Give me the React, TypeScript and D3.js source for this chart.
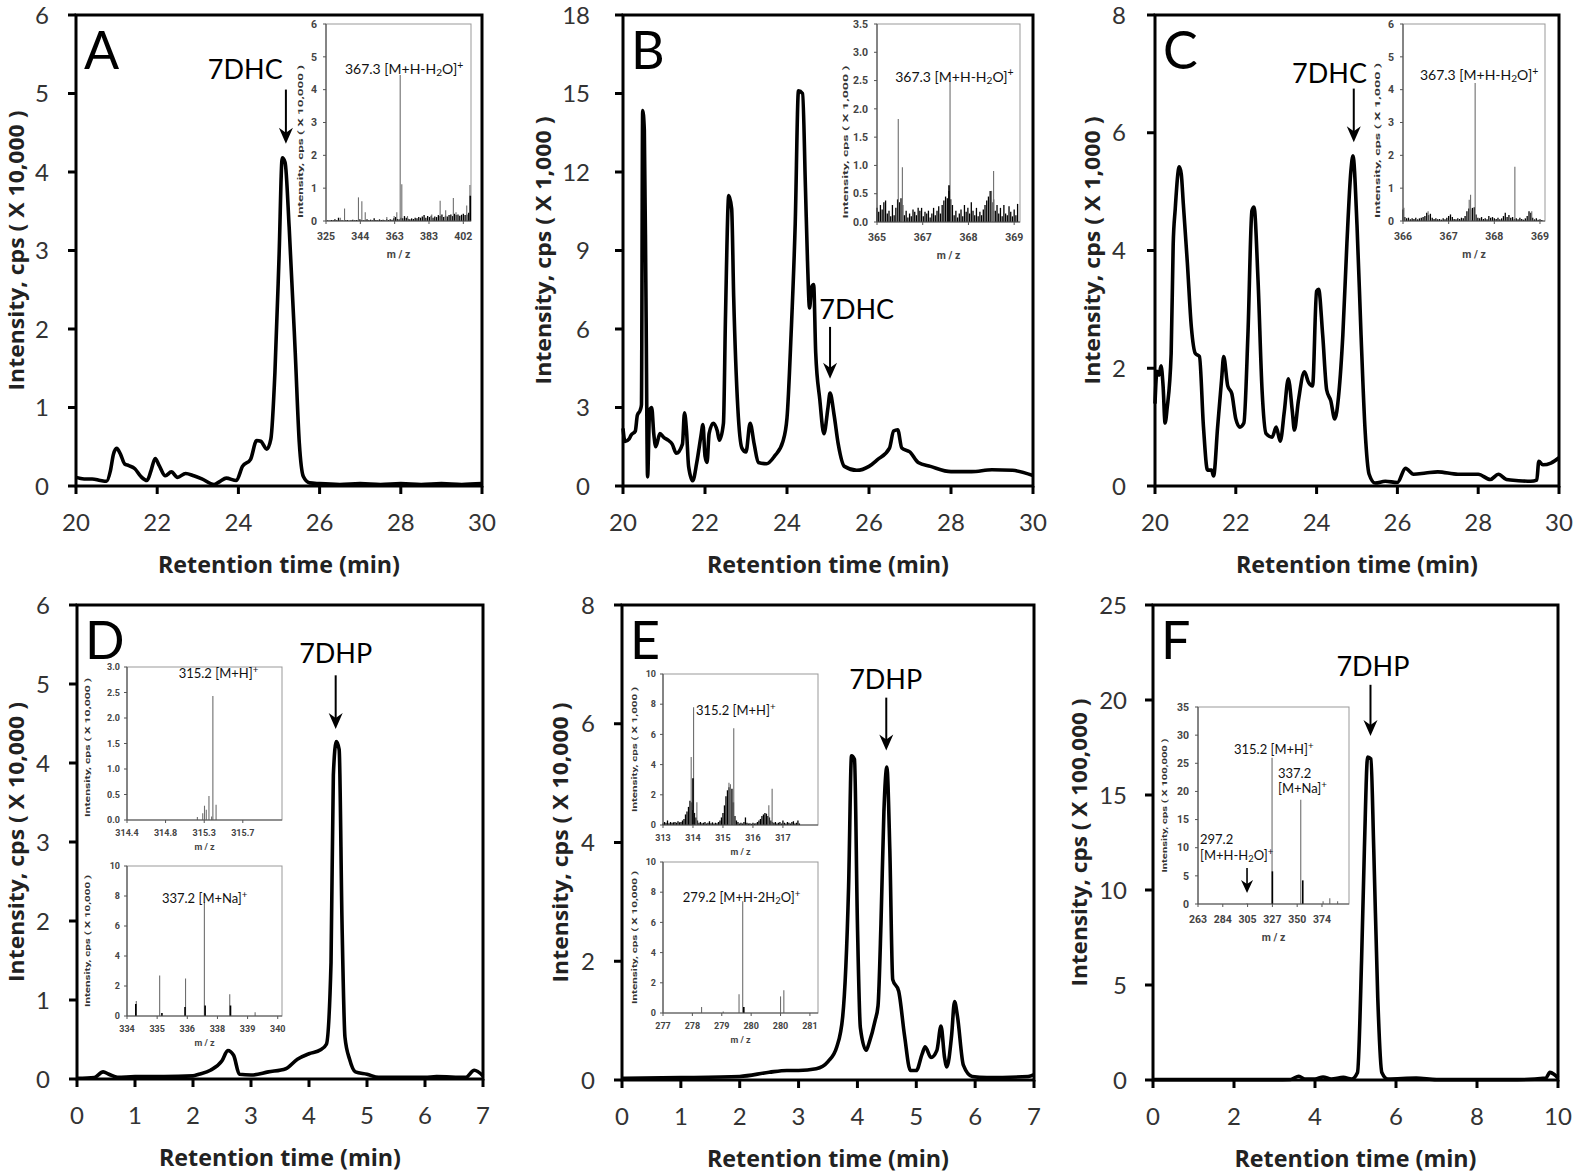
import React from "react";
import * as d3 from "d3";

type Pt = [number, number];

// ---------------- Chromatogram traces (time, intensity) ----------------
const traceA: Pt[] = [[20.0,0.11],[20.2,0.09],[20.4,0.09],[20.6,0.07],[20.75,0.06],[20.85,0.2],[20.92,0.4],[21.0,0.48],[21.1,0.4],[21.2,0.28],[21.3,0.26],[21.45,0.22],[21.6,0.12],[21.75,0.07],[21.85,0.2],[21.95,0.35],[22.05,0.26],[22.2,0.13],[22.35,0.18],[22.5,0.11],[22.7,0.16],[22.9,0.13],[23.1,0.09],[23.4,0.02],[23.55,0.06],[23.7,0.1],[23.95,0.07],[24.1,0.25],[24.3,0.34],[24.45,0.58],[24.55,0.57],[24.7,0.47],[24.8,0.6],[24.9,1.45],[25.0,2.9],[25.08,4.18],[25.15,4.12],[25.25,3.3],[25.4,1.7],[25.5,0.55],[25.6,0.12],[25.75,0.04],[26.0,0.03],[26.5,0.02],[27.0,0.03],[27.5,0.02],[28.0,0.03],[28.5,0.02],[29.0,0.03],[29.5,0.02],[30.0,0.03]];
const traceB: Pt[] = [[20.0,2.2],[20.05,1.7],[20.15,1.8],[20.2,1.95],[20.3,2.1],[20.35,2.7],[20.42,2.9],[20.45,3.1],[20.48,14.35],[20.52,13.6],[20.56,7.2],[20.6,0.35],[20.65,2.9],[20.7,3.0],[20.75,2.0],[20.8,1.5],[20.9,2.0],[21.0,1.85],[21.1,1.75],[21.2,1.6],[21.3,1.25],[21.45,1.6],[21.5,2.8],[21.55,2.1],[21.6,0.75],[21.7,0.2],[21.8,0.9],[21.9,1.9],[21.95,2.35],[22.0,1.15],[22.05,0.9],[22.1,2.0],[22.2,2.4],[22.3,2.1],[22.35,1.75],[22.45,2.4],[22.5,6.5],[22.58,11.1],[22.65,10.6],[22.7,7.2],[22.8,3.0],[22.9,1.45],[23.0,1.3],[23.1,2.4],[23.2,1.6],[23.3,0.9],[23.5,0.85],[23.7,1.15],[23.9,1.7],[24.0,2.6],[24.1,5.8],[24.2,10.0],[24.28,15.1],[24.38,15.0],[24.45,11.4],[24.5,8.6],[24.55,6.8],[24.6,7.6],[24.65,7.7],[24.7,5.1],[24.8,3.3],[24.9,2.0],[25.0,3.0],[25.05,3.55],[25.15,2.7],[25.25,1.6],[25.4,0.75],[25.7,0.6],[26.0,0.75],[26.2,1.0],[26.5,1.45],[26.6,2.1],[26.7,2.15],[26.8,1.45],[27.0,1.3],[27.2,0.9],[27.5,0.75],[28.0,0.55],[28.5,0.55],[29.0,0.62],[29.5,0.6],[30.0,0.4]];
const traceC: Pt[] = [[20.0,1.4],[20.05,1.95],[20.1,1.88],[20.15,2.04],[20.2,1.7],[20.25,1.07],[20.3,1.32],[20.4,2.25],[20.45,4.1],[20.5,4.7],[20.6,5.42],[20.65,5.3],[20.7,4.8],[20.8,3.8],[20.9,2.7],[21.0,2.25],[21.1,2.2],[21.2,1.0],[21.3,0.27],[21.4,0.27],[21.45,0.17],[21.55,1.0],[21.65,1.82],[21.7,2.2],[21.8,1.7],[21.9,1.57],[22.0,1.14],[22.1,1.0],[22.2,1.07],[22.3,2.57],[22.4,4.68],[22.45,4.74],[22.55,3.5],[22.65,1.63],[22.75,0.89],[22.9,0.83],[23.0,1.0],[23.1,0.76],[23.2,1.26],[23.3,1.82],[23.4,1.26],[23.45,0.95],[23.55,1.45],[23.7,1.94],[23.8,1.76],[23.9,1.7],[24.0,3.31],[24.05,3.34],[24.15,2.57],[24.25,1.63],[24.35,1.45],[24.45,1.14],[24.55,1.57],[24.65,2.57],[24.75,4.12],[24.85,5.36],[24.9,5.61],[25.0,4.43],[25.1,2.57],[25.2,0.95],[25.3,0.2],[25.45,0.05],[25.7,0.08],[26.0,0.06],[26.2,0.3],[26.4,0.2],[26.7,0.22],[27.0,0.24],[27.5,0.2],[28.0,0.2],[28.3,0.11],[28.5,0.2],[28.7,0.11],[29.0,0.09],[29.3,0.08],[29.45,0.1],[29.5,0.42],[29.6,0.36],[29.8,0.39],[30.0,0.48]];
const traceD: Pt[] = [[0.0,0.01],[0.3,0.02],[0.45,0.09],[0.55,0.06],[0.7,0.02],[1.0,0.03],[1.5,0.03],[2.0,0.04],[2.1,0.06],[2.3,0.11],[2.5,0.23],[2.6,0.36],[2.7,0.3],[2.8,0.06],[3.0,0.05],[3.3,0.09],[3.6,0.13],[3.8,0.25],[4.0,0.32],[4.2,0.37],[4.3,0.44],[4.38,1.48],[4.42,3.85],[4.47,4.27],[4.52,4.17],[4.57,1.95],[4.62,0.53],[4.7,0.25],[4.8,0.09],[5.0,0.06],[5.2,0.02],[6.0,0.02],[6.2,0.03],[6.7,0.02],[6.85,0.11],[7.0,0.04]];
const traceE: Pt[] = [[0.0,0.03],[1.0,0.04],[2.0,0.06],[2.5,0.13],[2.8,0.16],[3.0,0.16],[3.3,0.19],[3.5,0.31],[3.65,0.56],[3.75,1.07],[3.85,3.26],[3.9,5.46],[3.95,5.4],[4.0,2.63],[4.05,0.88],[4.15,0.5],[4.2,0.63],[4.3,1.0],[4.35,1.25],[4.4,2.63],[4.45,4.52],[4.5,5.27],[4.55,3.89],[4.6,1.69],[4.7,1.5],[4.8,0.75],[4.9,0.16],[5.0,0.16],[5.1,0.44],[5.15,0.56],[5.25,0.38],[5.35,0.5],[5.42,0.91],[5.48,0.38],[5.52,0.22],[5.6,0.75],[5.65,1.32],[5.7,1.07],[5.8,0.25],[5.95,0.06],[6.2,0.04],[6.9,0.06],[7.0,0.09]];
const traceF: Pt[] = [[0.0,0.02],[1.0,0.02],[2.0,0.02],[3.0,0.02],[3.4,0.03],[3.6,0.2],[3.75,0.05],[4.0,0.05],[4.2,0.16],[4.4,0.05],[4.7,0.14],[4.9,0.05],[5.05,0.4],[5.15,6.3],[5.22,12.2],[5.3,17.0],[5.38,16.9],[5.45,12.2],[5.55,4.3],[5.65,0.4],[5.8,0.05],[6.5,0.1],[7.0,0.02],[8.0,0.02],[9.0,0.02],[9.7,0.1],[9.8,0.4],[9.9,0.3],[10.0,0.1]];

// ---------------- main axes ----------------
const xTicksTop = [20, 22, 24, 26, 28, 30];
const xTicksDE = [0, 1, 2, 3, 4, 5, 6, 7];
const xTicksF = [0, 2, 4, 6, 8, 10];
const yTicksA = [0, 1, 2, 3, 4, 5, 6];
const yTicksB = [0, 3, 6, 9, 12, 15, 18];
const yTicksC = [0, 2, 4, 6, 8];
const yTicksD = [0, 1, 2, 3, 4, 5, 6];
const yTicksE = [0, 2, 4, 6, 8];
const yTicksF = [0, 5, 10, 15, 20, 25];

// ---------------- inset spectra (m/z, intensity) ----------------
const specAGray: Pt[] = [[333,0.1],[335.4,0.38],[343.2,0.72],[345.1,0.6],[347.0,0.27],[359.1,0.12],[363.2,0.15],[364.7,0.27],[366.6,4.45],[367.5,1.12],[370.7,0.15],[384.3,0.2],[389,0.62],[392.1,0.33],[396.4,0.7],[397.9,0.27],[403.9,0.47],[405.7,1.1]];
const specABlack: Pt[] = [[405.9,0.77]];
const noiseA = [0.02,0.01,0.03,0.02,0.05,0.02,0.1,0.03,0.02,0.01,0.02,0.03,0.01,0.02,0.04,0.02,0.03,0.02,0.05,0.03,0.02,0.03,0.05,0.02,0.04,0.02,0.08,0.03,0.02,0.05,0.03,0.04,0.02,0.06,0.03,0.05,0.04,0.08,0.12,0.06,0.05,0.1,0.08,0.15,0.1,0.07,0.05,0.08,0.06,0.1,0.08,0.12,0.1,0.14,0.18,0.1,0.15,0.12,0.16,0.1,0.14,0.12,0.18,0.15,0.2,0.12,0.16,0.14,0.18,0.2,0.15,0.22,0.18,0.2,0.16,0.19,0.22,0.18,0.2,0.25];
const noiseAStart = 326, noiseAStep = 1;

const specBGray: Pt[] = [[365.62,1.82],[365.74,0.97],[367.13,2.5],[368.34,0.55],[368.40,0.9]];
const specBBlack: Pt[] = [[367.1,0.65]];
const noiseB = [0.25,0.18,0.3,0.22,0.35,0.38,0.15,0.2,0.1,0.3,0.12,0.25,0.4,0.35,0.42,0.3,0.12,0.2,0.08,0.15,0.1,0.22,0.18,0.12,0.25,0.2,0.25,0.1,0.18,0.15,0.2,0.08,0.15,0.25,0.12,0.2,0.28,0.15,0.3,0.38,0.45,0.42,0.55,0.4,0.3,0.12,0.2,0.08,0.15,0.22,0.1,0.3,0.18,0.25,0.15,0.35,0.2,0.12,0.25,0.1,0.18,0.12,0.22,0.3,0.38,0.45,0.55,0.35,0.4,0.2,0.3,0.15,0.25,0.1,0.3,0.15,0.12,0.28,0.18,0.1,0.22,0.12,0.32];
const noiseBStart = 365.0, noiseBStep = 0.05;

const specCGray: Pt[] = [[366.02,0.4],[366.55,0.3],[367.45,0.65],[367.48,0.8],[367.58,4.2],[368.45,1.65],[368.82,0.3]];
const specCBlack: Pt[] = [];
const noiseC = [0.35,0.12,0.08,0.1,0.05,0.08,0.06,0.1,0.05,0.08,0.1,0.12,0.15,0.25,0.18,0.22,0.1,0.06,0.08,0.05,0.06,0.04,0.08,0.05,0.1,0.15,0.2,0.12,0.06,0.05,0.08,0.06,0.1,0.08,0.15,0.3,0.38,0.35,0.4,0.42,0.2,0.1,0.08,0.12,0.06,0.08,0.05,0.15,0.1,0.12,0.08,0.06,0.1,0.05,0.08,0.15,0.25,0.12,0.18,0.1,0.12,0.06,0.08,0.05,0.1,0.06,0.04,0.08,0.15,0.3,0.25,0.1,0.05,0.08,0.04,0.05,0.03];
const noiseCStart = 366.0, noiseCStep = 0.04;

const specD1Gray: Pt[] = [[315.19,0.06],[315.25,0.13],[315.27,0.28],[315.29,0.2],[315.32,0.47],[315.35,0.07],[315.364,2.43],[315.40,0.3]];
const specD2Gray: Pt[] = [[334.37,1.0],[335.3,2.7],[336.33,2.5],[337.08,7.6],[338.09,1.45],[339.1,0.25]];
const specD2Black: Pt[] = [[334.35,0.8],[335.39,0.2],[336.31,0.6],[337.11,0.7],[338.12,0.7]];

const specE1Gray: Pt[] = [[313.94,4.5],[314.02,7.8],[314.13,1.5],[315.2,2.8],[315.25,2.7],[315.36,6.4],[316.53,1.3],[316.64,2.4]];
const specE1Black: Pt[] = [[314.0,3.1]];
const noiseE1 = [0.1,0.2,0.15,0.3,0.12,0.2,0.15,0.18,0.2,0.15,0.25,0.18,0.2,0.3,0.4,0.7,0.9,1.2,1.6,1.5,1.0,0.8,0.5,0.3,0.15,0.2,0.12,0.15,0.2,0.1,0.15,0.25,0.12,0.18,0.1,0.15,0.12,0.2,0.3,0.5,0.8,1.3,1.9,2.3,2.5,2.4,2.4,1.5,0.6,0.3,0.2,0.1,0.15,0.1,0.2,0.5,0.15,0.1,0.12,0.08,0.15,0.1,0.12,0.2,0.3,0.4,0.6,0.7,0.8,0.75,0.6,0.5,0.3,0.2,0.15,0.2,0.1,0.15,0.2,0.1,0.3,0.15,0.1,0.2,0.15,0.1,0.2,0.25,0.1,0.15,0.3,0.1];
const noiseE1Start = 313.0, noiseE1Step = 0.05;

const specE2Gray: Pt[] = [[278.05,0.4],[278.64,0.1],[279.07,1.25],[279.17,7.4],[280.2,1.1],[280.29,1.5]];
const specE2Black: Pt[] = [[279.2,0.4]];

const specFGray: Pt[] = [[306.9,0.15],[329.3,26],[355,18.5],[375,0.5],[381,1.0],[388,0.5]];
const specFBlack: Pt[] = [[329.6,5.8],[356.8,4.2]];

// inset axis ticks / labels
const insATicks = [325, 344.25, 363.5, 382.75, 402];
const insALabels = ["325", "344", "363", "383", "402"];
const insBTicks = [365, 366.333, 367.667, 369];
const insBLabels = ["365", "367", "368", "369"];
const insCTicks = [366, 367, 368, 369];
const insCLabels = ["366", "367", "368", "369"];
const insD1Ticks = [314.4, 314.833, 315.267, 315.7];
const insD1Labels = ["314.4", "314.8", "315.3", "315.7"];
const insD2Ticks = [334, 335.2, 336.4, 337.6, 338.8, 340];
const insD2Labels = ["334", "335", "336", "338", "339", "340"];
const insE1Ticks = [313, 314, 315, 316, 317];
const insE1Labels = ["313", "314", "315", "316", "317"];
const insE2Ticks = [277, 277.8, 278.6, 279.4, 280.2, 281];
const insE2Labels = ["277", "278", "279", "280", "280", "281"];
const insFTicks = [263, 285.2, 307.4, 329.6, 351.8, 374];
const insFLabels = ["263", "284", "305", "327", "350", "374"];

const FS = "Lato, 'Open Sans', sans-serif";
const FB = "'Open Sans', 'DejaVu Sans', sans-serif";
const FI = "Roboto, 'DejaVu Sans', sans-serif";

type Box = { x0: number; x1: number; yTop: number; yBot: number };

function Chem({ x, y, text, size, anchor }: { x: number; y: number; text: string; size: number; anchor?: string }) {
  const parts = text.split(/(_\d|\^\+)/).filter((p) => p.length > 0);
  let shift = 0;
  const spans = parts.map((p, i) => {
    if (p.startsWith("_")) {
      const d = 2 - shift;
      shift = 2;
      return <tspan key={i} dy={d} fontSize={size * 0.72}>{p.slice(1)}</tspan>;
    }
    if (p.startsWith("^")) {
      const up = -size * 0.38;
      const d = up - shift;
      shift = up;
      return <tspan key={i} dy={d} fontSize={size * 0.75}>+</tspan>;
    }
    const d = -shift;
    shift = 0;
    return <tspan key={i} dy={d}>{p}</tspan>;
  });
  return (
    <text x={x} y={y} fontSize={size} fontFamily={FS} fill="#111" textAnchor={anchor || "start"}>
      {spans}
    </text>
  );
}

type Arrow = { t: number; vTop: number; vTip: number; label: string; lt: number; lv: number };

function Chrom(props: {
  box: Box; trace: Pt[]; xDomain: [number, number]; xTicks: number[]; yDomain: [number, number]; yTicks: number[];
  yTitle: string; yTitleLen: number; letter: string; arrow: Arrow; tickGap: number; titleGap: number;
}) {
  const { box, trace, xDomain, xTicks, yDomain, yTicks, yTitle, yTitleLen, letter, arrow, tickGap, titleGap } = props;
  const x = d3.scaleLinear().domain(xDomain).range([box.x0, box.x1]);
  const y = d3.scaleLinear().domain(yDomain).range([box.yBot, box.yTop]);
  const line = d3.line<Pt>().x((d) => x(d[0])).y((d) => y(d[1])).curve(d3.curveMonotoneX);
  const ax = x(arrow.t);
  const yt = y(arrow.vTop);
  const yp = y(arrow.vTip);
  const cx = (box.x0 + box.x1) / 2;
  const cy = (box.yTop + box.yBot) / 2;
  return (
    <g>
      <path d={line(trace) || ""} fill="none" stroke="#000" strokeWidth={3.6} strokeLinejoin="round" />
      <rect x={box.x0} y={box.yTop} width={box.x1 - box.x0} height={box.yBot - box.yTop} fill="none" stroke="#000" strokeWidth={3} />
      {xTicks.map((t) => (
        <g key={"x" + t}>
          <line x1={x(t)} x2={x(t)} y1={box.yBot} y2={box.yBot + 8} stroke="#000" strokeWidth={3} />
          <text x={x(t)} y={box.yBot + 45} textAnchor="middle" fontSize={24} fontFamily={FS} fill="#333">{t}</text>
        </g>
      ))}
      {yTicks.map((t) => (
        <g key={"y" + t}>
          <line x1={box.x0 - 8} x2={box.x0} y1={y(t)} y2={y(t)} stroke="#000" strokeWidth={3} />
          <text x={box.x0 - tickGap} y={y(t) + 8.5} textAnchor="end" fontSize={24} fontFamily={FS} fill="#333">{t}</text>
        </g>
      ))}
      <text x={cx} y={box.yBot + 87} textAnchor="middle" fontSize={22.5} fontWeight={700} fontFamily={FB} fill="#222"
        textLength={242} lengthAdjust="spacingAndGlyphs">Retention time (min)</text>
      <text transform={`translate(${box.x0 - titleGap},${cy}) rotate(-90)`} textAnchor="middle" fontSize={20.5} fontWeight={700} fontFamily={FB} fill="#222"
        textLength={yTitleLen} lengthAdjust="spacingAndGlyphs">{yTitle}</text>
      <text x={box.x0 + 8} y={box.yTop + 54} fontSize={52} fontFamily={FS} fill="#000">{letter}</text>
      <line x1={ax} x2={ax} y1={yt} y2={yp - 10} stroke="#000" strokeWidth={2} />
      <path d={`M${ax},${yp} L${ax - 7},${yp - 16} L${ax},${yp - 11} L${ax + 7},${yp - 16} Z`} fill="#000" />
      <text x={x(arrow.lt)} y={y(arrow.lv)} textAnchor="middle" fontSize={27} fontFamily={FS} fill="#000">{arrow.label}</text>
    </g>
  );
}

type Note = { mz: number; v: number; text: string };

function Inset(props: {
  box: Box; xDomain: [number, number]; xTicks: number[]; xLabels: string[]; yMax: number; yTicks: number[]; yFmt: (n: number) => string;
  yTitle: string; yTitleLen: number; yTitleGap: number; yTitleShift: number; gray: Pt[]; black: Pt[];
  noise?: number[]; noiseStart?: number; noiseStep?: number; notes: Note[]; noteSize: number; small?: boolean;
  arrow?: { mz: number; vTop: number; vTip: number };
}) {
  const p = props;
  const b = p.box;
  const x = d3.scaleLinear().domain(p.xDomain).range([b.x0, b.x1]);
  const y = d3.scaleLinear().domain([0, p.yMax]).range([b.yBot, b.yTop]);
  const fs = p.small ? 9 : 10.5;
  const lblOff = p.small ? 16 : 19;
  const mzOff = p.small ? 30 : 37;
  const tgap = p.small ? 7 : 9;
  const noise = p.noise || [];
  return (
    <g>
      <rect x={b.x0} y={b.yTop} width={b.x1 - b.x0} height={b.yBot - b.yTop} fill="#fff" stroke="#999" strokeWidth={1} />
      {noise.map((v, i) => {
        const xx = x((p.noiseStart || 0) + i * (p.noiseStep || 1));
        return <line key={"n" + i} x1={xx} x2={xx} y1={b.yBot} y2={y(v)} stroke="#000" strokeWidth={1.3} />;
      })}
      {p.gray.map((d, i) => (
        <line key={"g" + i} x1={x(d[0])} x2={x(d[0])} y1={b.yBot} y2={y(d[1])} stroke="#6e6e6e" strokeWidth={1.1} />
      ))}
      {p.black.map((d, i) => (
        <line key={"b" + i} x1={x(d[0])} x2={x(d[0])} y1={b.yBot} y2={y(d[1])} stroke="#000" strokeWidth={1.6} />
      ))}
      <line x1={b.x0} x2={b.x0} y1={b.yTop} y2={b.yBot} stroke="#555" strokeWidth={1.2} />
      <line x1={b.x0} x2={b.x1} y1={b.yBot} y2={b.yBot} stroke="#555" strokeWidth={1.2} />
      {p.yTicks.map((t) => (
        <g key={"yt" + t}>
          <line x1={b.x0 - 3} x2={b.x0} y1={y(t)} y2={y(t)} stroke="#555" strokeWidth={1} />
          <text x={b.x0 - tgap} y={y(t)} dy="0.35em" textAnchor="end" fontSize={fs} fontWeight={700} fontFamily={FI} fill="#444">{p.yFmt(t)}</text>
        </g>
      ))}
      {p.xTicks.map((t, i) => (
        <g key={"xt" + i}>
          <line x1={x(t)} x2={x(t)} y1={b.yBot} y2={b.yBot + 3} stroke="#555" strokeWidth={1} />
          <text x={x(t)} y={b.yBot + lblOff} textAnchor="middle" fontSize={fs} fontWeight={700} fontFamily={FI} fill="#444">{p.xLabels[i]}</text>
        </g>
      ))}
      <text x={(b.x0 + b.x1) / 2} y={b.yBot + mzOff} textAnchor="middle" fontSize={fs} fontWeight={700} fontFamily={FI} fill="#444">m / z</text>
      <text transform={`translate(${b.x0 - p.yTitleGap},${(b.yTop + b.yBot) / 2 + p.yTitleShift}) rotate(-90)`} textAnchor="middle"
        fontSize={8} fontWeight={700} fontFamily={FI} fill="#333" textLength={p.yTitleLen} lengthAdjust="spacingAndGlyphs">{p.yTitle}</text>
      {p.notes.map((n, i) => (
        <Chem key={"nt" + i} x={x(n.mz)} y={y(n.v)} text={n.text} size={p.noteSize} />
      ))}
      {p.arrow ? (
        <g>
          <line x1={x(p.arrow.mz)} x2={x(p.arrow.mz)} y1={y(p.arrow.vTop)} y2={y(p.arrow.vTip) - 8} stroke="#000" strokeWidth={1.6} />
          <path d={`M${x(p.arrow.mz)},${y(p.arrow.vTip)} l-6,-13 l6,4 l6,-4 Z`} fill="#000" />
        </g>
      ) : null}
    </g>
  );
}

const f0 = (n: number) => String(n);
const f1 = (n: number) => n.toFixed(1);

export default function App() {
  const boxA: Box = { x0: 76, x1: 482, yTop: 15, yBot: 486 };
  const boxB: Box = { x0: 623, x1: 1033, yTop: 15, yBot: 486 };
  const boxC: Box = { x0: 1155, x1: 1559, yTop: 15, yBot: 486 };
  const boxD: Box = { x0: 77, x1: 483, yTop: 605, yBot: 1079 };
  const boxE: Box = { x0: 622, x1: 1034, yTop: 605, yBot: 1080 };
  const boxF: Box = { x0: 1153, x1: 1558, yTop: 605, yBot: 1080 };
  return (
    <svg width={1575} height={1173} viewBox="0 0 1575 1173" style={{ position: "absolute", left: 0, top: 0, background: "#fff" }}>
      <rect x={0} y={0} width={1575} height={1173} fill="#fff" />
      <Chrom box={boxA} trace={traceA} xDomain={[20, 30]} xTicks={xTicksTop} yDomain={[0, 6]} yTicks={yTicksA}
        yTitle="Intensity, cps ( X 10,000 )" yTitleLen={280} letter="A" tickGap={27} titleGap={52}
        arrow={{ t: 25.17, vTop: 5.05, vTip: 4.36, label: "7DHC", lt: 24.17, lv: 5.18 }} />
      <Chrom box={boxB} trace={traceB} xDomain={[20, 30]} xTicks={xTicksTop} yDomain={[0, 18]} yTicks={yTicksB}
        yTitle="Intensity, cps ( X 1,000 )" yTitleLen={268} letter="B" tickGap={33} titleGap={72}
        arrow={{ t: 25.05, vTop: 6.08, vTip: 4.1, label: "7DHC", lt: 25.7, lv: 6.38 }} />
      <Chrom box={boxC} trace={traceC} xDomain={[20, 30]} xTicks={xTicksTop} yDomain={[0, 8]} yTicks={yTicksC}
        yTitle="Intensity, cps ( X 1,000 )" yTitleLen={268} letter="C" tickGap={29} titleGap={55}
        arrow={{ t: 24.92, vTop: 6.75, vTip: 5.84, label: "7DHC", lt: 24.32, lv: 6.85 }} />
      <Chrom box={boxD} trace={traceD} xDomain={[0, 7]} xTicks={xTicksDE} yDomain={[0, 6]} yTicks={yTicksD}
        yTitle="Intensity, cps ( X 10,000 )" yTitleLen={280} letter="D" tickGap={27} titleGap={53}
        arrow={{ t: 4.46, vTop: 5.11, vTip: 4.43, label: "7DHP", lt: 4.46, lv: 5.27 }} />
      <Chrom box={boxE} trace={traceE} xDomain={[0, 7]} xTicks={xTicksDE} yDomain={[0, 8]} yTicks={yTicksE}
        yTitle="Intensity, cps ( X 10,000 )" yTitleLen={280} letter="E" tickGap={27} titleGap={54}
        arrow={{ t: 4.49, vTop: 6.44, vTip: 5.55, label: "7DHP", lt: 4.48, lv: 6.59 }} />
      <Chrom box={boxF} trace={traceF} xDomain={[0, 10]} xTicks={xTicksF} yDomain={[0, 25]} yTicks={yTicksF}
        yTitle="Intensity, cps ( X 100,000 )" yTitleLen={288} letter="F" tickGap={26} titleGap={66}
        arrow={{ t: 5.37, vTop: 20.8, vTip: 18.1, label: "7DHP", lt: 5.43, lv: 21.25 }} />

      <Inset box={{ x0: 326, x1: 471, yTop: 24, yBot: 221 }} xDomain={[325, 406.3]} xTicks={insATicks} xLabels={insALabels}
        yMax={6} yTicks={[0, 1, 2, 3, 4, 5, 6]} yFmt={f0} yTitle="Intensity, cps ( X 10,000 )" yTitleLen={153} yTitleGap={23} yTitleShift={19}
        gray={specAGray} black={specABlack} noise={noiseA} noiseStart={noiseAStart} noiseStep={noiseAStep}
        notes={[{ mz: 335.6, v: 4.48, text: "367.3 [M+H-H_2O]^+" }]} noteSize={14} />
      <Inset box={{ x0: 877, x1: 1020, yTop: 24, yBot: 222 }} xDomain={[365, 369.17]} xTicks={insBTicks} xLabels={insBLabels}
        yMax={3.5} yTicks={[0, 0.5, 1, 1.5, 2, 2.5, 3, 3.5]} yFmt={f1} yTitle="Intensity, cps ( X 1,000 )" yTitleLen={153} yTitleGap={29} yTitleShift={19}
        gray={specBGray} black={specBBlack} noise={noiseB} noiseStart={noiseBStart} noiseStep={noiseBStep}
        notes={[{ mz: 365.53, v: 2.48, text: "367.3 [M+H-H_2O]^+" }]} noteSize={14} />
      <Inset box={{ x0: 1403, x1: 1545, yTop: 24, yBot: 221 }} xDomain={[366, 369.11]} xTicks={insCTicks} xLabels={insCLabels}
        yMax={6} yTicks={[0, 1, 2, 3, 4, 5, 6]} yFmt={f0} yTitle="Intensity, cps ( X 1,000 )" yTitleLen={155} yTitleGap={23} yTitleShift={18}
        gray={specCGray} black={specCBlack} noise={noiseC} noiseStart={noiseCStart} noiseStep={noiseCStep}
        notes={[{ mz: 366.37, v: 4.29, text: "367.3 [M+H-H_2O]^+" }]} noteSize={14} />
      <Inset box={{ x0: 127, x1: 282, yTop: 667, yBot: 820 }} xDomain={[314.4, 316.14]} xTicks={insD1Ticks} xLabels={insD1Labels}
        yMax={3} yTicks={[0, 0.5, 1, 1.5, 2, 2.5, 3]} yFmt={f1} yTitle="Intensity, cps ( X 10,000 )" yTitleLen={139} yTitleGap={37} yTitleShift={4}
        gray={specD1Gray} black={[]} notes={[{ mz: 314.98, v: 2.78, text: "315.2 [M+H]^+" }]} noteSize={13} small />
      <Inset box={{ x0: 127, x1: 282, yTop: 866, yBot: 1016 }} xDomain={[334, 340.17]} xTicks={insD2Ticks} xLabels={insD2Labels}
        yMax={10} yTicks={[0, 2, 4, 6, 8, 10]} yFmt={f0} yTitle="Intensity, cps ( X 10,000 )" yTitleLen={132} yTitleGap={37} yTitleShift={0}
        gray={specD2Gray} black={specD2Black} notes={[{ mz: 335.39, v: 7.53, text: "337.2 [M+Na]^+" }]} noteSize={13} small />
      <Inset box={{ x0: 663, x1: 818, yTop: 674, yBot: 825 }} xDomain={[313, 318.17]} xTicks={insE1Ticks} xLabels={insE1Labels}
        yMax={10} yTicks={[0, 2, 4, 6, 8, 10]} yFmt={f0} yTitle="Intensity, cps ( X 1,000 )" yTitleLen={125} yTitleGap={26} yTitleShift={0}
        gray={specE1Gray} black={specE1Black} noise={noiseE1} noiseStart={noiseE1Start} noiseStep={noiseE1Step}
        notes={[{ mz: 314.1, v: 7.28, text: "315.2 [M+H]^+" }]} noteSize={13} small />
      <Inset box={{ x0: 663, x1: 818, yTop: 862, yBot: 1013 }} xDomain={[277, 281.22]} xTicks={insE2Ticks} xLabels={insE2Labels}
        yMax={10} yTicks={[0, 2, 4, 6, 8, 10]} yFmt={f0} yTitle="Intensity, cps ( X 10,000 )" yTitleLen={133} yTitleGap={26} yTitleShift={0}
        gray={specE2Gray} black={specE2Black} notes={[{ mz: 277.54, v: 7.35, text: "279.2 [M+H-2H_2O]^+" }]} noteSize={13} small />
      <Inset box={{ x0: 1198, x1: 1349, yTop: 707, yBot: 904 }} xDomain={[263, 398.2]} xTicks={insFTicks} xLabels={insFLabels}
        yMax={35} yTicks={[0, 5, 10, 15, 20, 25, 30, 35]} yFmt={f0} yTitle="Intensity, cps ( X 100,000 )" yTitleLen={134} yTitleGap={31} yTitleShift={0}
        gray={specFGray} black={specFBlack}
        notes={[
          { mz: 295.2, v: 26.6, text: "315.2 [M+H]^+" },
          { mz: 334.6, v: 22.4, text: "337.2" },
          { mz: 334.6, v: 19.7, text: "[M+Na]^+" },
          { mz: 264.8, v: 10.66, text: "297.2" },
          { mz: 264.8, v: 7.8, text: "[M+H-H_2O]^+" },
        ]}
        noteSize={13} arrow={{ mz: 306.9, vTop: 6.4, vTip: 1.95 }} />
    </svg>
  );
}
